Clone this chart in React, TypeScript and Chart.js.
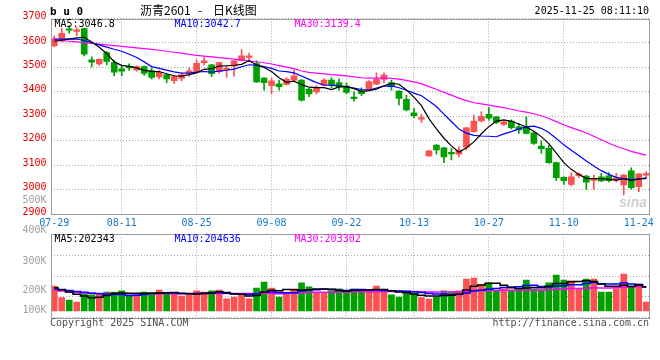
import React, { useEffect, useRef } from 'react';
import { Chart, registerables } from 'chart.js';

Chart.register(...registerables);

// ---------- texts ----------
const SYMBOL = 'b u 0';
const TITLE_NAME = '沥青2601';
const TITLE_SEP = '-';
const TITLE_KIND = '日K线图';
const TIMESTAMP = '2025-11-25 08:11:10';
const COPYRIGHT = 'Copyright 2025 SINA.COM';
const SOURCE_URL = 'http://finance.sina.com.cn';
const WATERMARK = 'sina';
const PRICE_LEGEND = ['MA5:3046.8', 'MA10:3042.7', 'MA30:3139.4'];
const VOLUME_LEGEND = ['MA5:202343', 'MA10:204636', 'MA30:203302'];
const VOLUME_AXIS_LABELS = ['400K', '300K', '200K', '100K'];
const PRICE_EXTRA_LABEL = '500K';

// ---------- data ----------
const DATES = [
  '07-29', '07-30', '07-31', '08-01', '08-04', '08-05', '08-06', '08-07', '08-08', '08-11',
  '08-12', '08-13', '08-14', '08-15', '08-18', '08-19', '08-20', '08-21', '08-22', '08-25',
  '08-26', '08-27', '08-28', '08-29', '09-01', '09-02', '09-03', '09-04', '09-05', '09-08',
  '09-09', '09-10', '09-11', '09-12', '09-15', '09-16', '09-17', '09-18', '09-19', '09-22',
  '09-23', '09-24', '09-25', '09-26', '09-29', '09-30', '10-09', '10-10', '10-13', '10-14',
  '10-15', '10-16', '10-17', '10-20', '10-21', '10-22', '10-23', '10-24', '10-27', '10-28',
  '10-29', '10-30', '10-31', '11-03', '11-04', '11-05', '11-06', '11-07', '11-10', '11-11',
  '11-12', '11-13', '11-14', '11-17', '11-18', '11-19', '11-20', '11-21', '11-24', '11-25',
];
const X_LABELS = ['07-29', '08-11', '08-25', '09-08', '09-22', '10-13', '10-27', '11-10', '11-24'];

const OPEN = [
  3588, 3608, 3658, 3647, 3659, 3531, 3514, 3561, 3520, 3494,
  3502, 3490, 3503, 3487, 3461, 3469, 3446, 3455, 3474, 3483,
  3519, 3510, 3482, 3490, 3505, 3527, 3541, 3516, 3456, 3425,
  3433, 3430, 3448, 3448, 3411, 3400, 3427, 3448, 3438, 3423,
  3378, 3403, 3411, 3431, 3451, 3438, 3403, 3369, 3314, 3288,
  3138, 3182, 3171, 3150, 3145, 3173, 3237, 3281, 3308, 3298,
  3267, 3280, 3257, 3257, 3232, 3178, 3169, 3110, 3050, 3021,
  3056, 3055, 3037, 3052, 3056, 3039, 3019, 3077, 3012, 3059,
];
const HIGH = [
  3629, 3659, 3671, 3663, 3661, 3543, 3535, 3565, 3530, 3506,
  3514, 3506, 3506, 3497, 3487, 3472, 3468, 3476, 3497, 3531,
  3543, 3512, 3522, 3505, 3528, 3573, 3559, 3527, 3458, 3457,
  3448, 3458, 3489, 3450, 3414, 3425, 3454, 3458, 3452, 3436,
  3400, 3416, 3446, 3478, 3478, 3448, 3405, 3386, 3332, 3308,
  3161, 3184, 3173, 3169, 3175, 3255, 3305, 3318, 3335, 3300,
  3282, 3285, 3271, 3298, 3236, 3198, 3182, 3112, 3052, 3069,
  3068, 3058, 3059, 3066, 3070, 3066, 3062, 3089, 3065, 3073,
];
const LOW = [
  3585, 3604, 3640, 3630, 3547, 3502, 3508, 3510, 3466, 3466,
  3488, 3484, 3467, 3453, 3453, 3437, 3434, 3445, 3463, 3481,
  3510, 3462, 3476, 3459, 3464, 3525, 3523, 3438, 3407, 3391,
  3407, 3428, 3446, 3362, 3380, 3391, 3425, 3416, 3407, 3392,
  3362, 3384, 3409, 3429, 3437, 3407, 3346, 3322, 3294, 3275,
  3136, 3145, 3110, 3121, 3134, 3162, 3235, 3277, 3284, 3270,
  3262, 3248, 3230, 3228, 3185, 3148, 3107, 3036, 3021, 3016,
  3050, 3001, 3001, 3033, 3031, 3031, 2978, 3002, 2991, 3046,
];
const CLOSE = [
  3618, 3639, 3652, 3653, 3554, 3521, 3533, 3524, 3480, 3484,
  3498, 3503, 3475, 3459, 3480, 3453, 3462, 3469, 3486, 3517,
  3527, 3474, 3520, 3495, 3527, 3547, 3546, 3440, 3437, 3445,
  3421, 3451, 3465, 3366, 3391, 3414, 3448, 3428, 3420, 3398,
  3372, 3392, 3442, 3451, 3468, 3421, 3373, 3326, 3302, 3294,
  3158, 3162, 3134, 3146, 3162, 3253, 3280, 3300, 3292, 3275,
  3277, 3253, 3244, 3230, 3189, 3167, 3110, 3049, 3036, 3052,
  3063, 3030, 3043, 3035, 3036, 3048, 3059, 3008, 3064, 3063,
];
const MA5 = [
  3607, 3611, 3616, 3621, 3623.2, 3603.8, 3582.6, 3557, 3522.4, 3508.4,
  3503.8, 3497.8, 3488, 3483.8, 3483, 3474, 3465.8, 3464.6, 3470, 3477.4,
  3492.2, 3494.6, 3504.8, 3506.6, 3508.6, 3512.6, 3527, 3511, 3499.4, 3483,
  3457.8, 3438.8, 3443.8, 3429.6, 3418.8, 3417.4, 3416.8, 3409.4, 3420.2, 3421.6,
  3413.2, 3402, 3404.8, 3411, 3425, 3434.8, 3431, 3407.8, 3378, 3343.2,
  3290.6, 3248.4, 3210, 3178.8, 3152.4, 3171.4, 3195, 3228.2, 3257.4, 3280,
  3284.8, 3279.4, 3268.2, 3255.8, 3238.6, 3216.6, 3188, 3149, 3110.2, 3082.8,
  3062, 3046, 3044.8, 3044.6, 3041.4, 3038.4, 3044.2, 3037.2, 3043, 3048.4,
];
const MA10 = [
  3615, 3616, 3617, 3616, 3610, 3601, 3592, 3583, 3574, 3565.8,
  3553.8, 3540.2, 3522.5, 3503.1, 3495.7, 3488.9, 3481.8, 3476.3, 3476.9, 3480.2,
  3483.1, 3480.2, 3484.7, 3488.3, 3493, 3502.4, 3510.8, 3507.9, 3503, 3495.8,
  3485.2, 3482.9, 3477.4, 3464.5, 3450.9, 3437.6, 3427.8, 3426.6, 3424.9, 3420.2,
  3415.3, 3409.4, 3407.1, 3415.6, 3423.3, 3424, 3416.5, 3406.3, 3394.5, 3384.1,
  3362.7, 3339.7, 3308.9, 3278.4, 3247.8, 3231, 3221.7, 3219.1, 3218.1, 3216.2,
  3228.1, 3237.2, 3248.2, 3256.6, 3259.3, 3250.7, 3233.7, 3208.6, 3183, 3160.7,
  3139.3, 3117, 3096.9, 3077.4, 3062.1, 3050.2, 3045.1, 3041, 3043.8, 3044.9,
];
const MA30 = [
  3613, 3610, 3607, 3604, 3601, 3598, 3595, 3592, 3589, 3586,
  3583, 3580, 3577, 3574, 3570, 3566, 3562, 3558, 3553, 3549,
  3546, 3543, 3540, 3537, 3534, 3531, 3527, 3523, 3519, 3513.9,
  3507.4, 3501.1, 3494.9, 3485.3, 3479.9, 3476.3, 3473.5, 3470.3, 3468.3, 3465.4,
  3461.2, 3457.5, 3456.4, 3456.1, 3455.7, 3454.7, 3451.7, 3446.9, 3440.8, 3433.4,
  3421.1, 3410.7, 3397.8, 3386.2, 3374, 3364.2, 3355.3, 3350.7, 3345.8, 3340.2,
  3335.4, 3328.8, 3321.4, 3316.9, 3310.1, 3301.9, 3290.6, 3278, 3265.2, 3253.7,
  3243.4, 3231.3, 3218, 3204.1, 3189.7, 3177.3, 3166.8, 3156.2, 3148.3, 3140.6,
];

// volume, in thousands of lots
const VOLUME_K = [
  212, 160, 149, 140, 176, 172, 172, 185, 185, 190,
  167, 172, 185, 182, 194, 176, 176, 167, 172, 190,
  185, 190, 194, 155, 163, 172, 155, 203, 230, 203,
  163, 181, 199, 226, 208, 181, 181, 190, 199, 190,
  200, 187, 194, 212, 187, 172, 163, 178, 182, 160,
  154, 163, 190, 185, 190, 243, 248, 217, 226, 190,
  199, 190, 199, 239, 199, 194, 226, 261, 239, 235,
  199, 243, 243, 185, 185, 199, 266, 212, 221, 140,
];
const VMA5 = [
  204, 195, 185, 175, 167.4, 159.4, 161.8, 169, 178, 180.8,
  179.8, 179.8, 179.8, 179.2, 180, 181.8, 182.6, 179, 177, 176.2,
  178, 180.8, 186.2, 182.8, 177.4, 174.8, 167.8, 169.6, 184.6, 192.6,
  190.8, 196, 195.2, 194.4, 195.4, 199, 199, 197.2, 191.8, 188.2,
  192, 193.2, 194, 196.6, 196, 190.4, 185.6, 182.4, 176.4, 171,
  167.4, 167.4, 169.8, 170.4, 176.4, 194.2, 211.2, 216.6, 224.8, 224.8,
  216, 204.4, 200.8, 203.4, 205.2, 204.2, 211.4, 223.8, 223.8, 231,
  232, 235.4, 231.8, 221, 211, 211, 215.6, 209.4, 216.6, 207.6,
];
const VMA10 = [
  200, 196, 192, 188, 184, 180, 177, 175, 174, 174.1,
  169.6, 170.8, 174.4, 178.6, 180.4, 180.8, 181.2, 179.4, 178.1, 178.1,
  179.9, 181.7, 182.6, 179.9, 176.8, 176.4, 174.3, 177.9, 183.7, 185,
  182.8, 181.9, 182.4, 189.5, 194, 194.9, 197.5, 196.2, 193.1, 191.8,
  195.5, 196.1, 195.6, 194.2, 192.1, 191.2, 189.4, 188.2, 186.5, 183.5,
  178.9, 176.5, 176.1, 173.4, 173.7, 180.8, 189.3, 193.2, 197.6, 200.6,
  205.1, 207.8, 208.7, 214.1, 215, 210.1, 207.9, 212.3, 213.6, 218.1,
  218.1, 223.4, 227.8, 222.4, 221, 221.5, 225.5, 220.6, 218.8, 209.3,
];
const VMA30 = [
  194, 190, 186, 183, 181, 180, 179, 178, 178, 177,
  177, 177, 177, 177, 177, 177, 177, 177, 177, 177,
  178, 178, 178, 178, 178, 178, 178, 178, 179, 179.1,
  177.4, 178.1, 179.8, 182.7, 183.7, 184, 184.3, 184.5, 185, 185,
  186.1, 186.6, 186.9, 187.9, 187.6, 187.5, 187.1, 187.4, 187.8, 186.8,
  185.7, 184.8, 184.7, 185.7, 186.6, 189, 192.1, 192.5, 192.4, 192,
  193.2, 193.5, 193.5, 193.9, 193.6, 194, 195.5, 197.9, 199.2, 200.7,
  200.7, 202.6, 204.2, 203.3, 203.2, 204.1, 207.6, 208.7, 210, 209.3,
];

const PRICE_TICKS = [2900, 3000, 3100, 3200, 3300, 3400, 3500, 3600, 3700];
const VOLUME_MIN_K = 70;
const VOLUME_MAX_K = 444;
const VOLUME_FLOOR_K = 100;

// ---------- style ----------
const MONO = '"DejaVu Sans Mono", "Liberation Mono", monospace';
const CJK = '"Noto Sans CJK SC", sans-serif';
const UP = '#fa5252';
const DOWN = '#00a000';
const GRID = '#a8a8a8';
const FRAME = '#9a9a9a';
const PRICE_TEXT = '#e80000';
const DATE_TEXT = '#1478c8';
const MA_COLORS = ['#000000', '#0000ff', '#ff00ff'];
const AXIS_W = 50.5;

const idx = DATES.map((_, i) => i);
const candleColors = idx.map((i) => (CLOSE[i] >= OPEN[i] ? UP : DOWN));
const xTickIdx = X_LABELS.map((l) => DATES.indexOf(l));

function xScale(showLabels: boolean, height: number) {
  return {
    type: 'linear',
    min: -0.5,
    max: DATES.length - 0.5,
    offset: false,
    afterBuildTicks: (s: any) => {
      s.ticks = xTickIdx.map((v) => ({ value: v }));
    },
    afterFit: (s: any) => {
      s.height = height;
    },
    grid: {
      offset: false,
      drawTicks: false,
      lineWidth: 1,
      color: (c: any) =>
        c.index === 0 || c.index === xTickIdx.length - 1 ? 'rgba(0,0,0,0)' : GRID,
    },
    border: { display: false, dash: [1, 2] },
    ticks: {
      display: showLabels,
      autoSkip: false,
      maxRotation: 0,
      minRotation: 0,
      padding: 3,
      color: DATE_TEXT,
      font: { family: MONO, size: 10 },
      callback: (v: number) => DATES[Math.round(v)] ?? '',
    },
  };
}

function drawFrame(ctx: CanvasRenderingContext2D, a: any) {
  ctx.strokeStyle = FRAME;
  ctx.lineWidth = 1;
  const l = Math.round(a.left) + 0.5;
  const t = Math.round(a.top) + 0.5;
  const r = Math.round(a.right) - 0.5;
  const b = Math.round(a.bottom) + 0.5;
  ctx.strokeRect(l, t, r - l, b - t);
}

function drawLegend(ctx: CanvasRenderingContext2D, a: any, items: string[]) {
  ctx.font = `10px ${MONO}`;
  ctx.textAlign = 'left';
  ctx.textBaseline = 'middle';
  items.forEach((t, k) => {
    ctx.fillStyle = MA_COLORS[k];
    ctx.fillText(t, a.left + 4 + k * 120, a.top + 5.5);
  });
}

const priceOverlay = {
  id: 'priceOverlay',
  afterDraw(chart: any) {
    const { ctx, chartArea: a } = chart;
    ctx.save();
    drawFrame(ctx, a);
    // header
    ctx.fillStyle = '#000';
    ctx.textBaseline = 'alphabetic';
    ctx.textAlign = 'left';
    ctx.font = `bold 11px ${MONO}`;
    ctx.fillText(SYMBOL, a.left - 0.5, a.top - 3.5);
    ctx.textBaseline = 'middle';
    ctx.font = `12px ${CJK}`;
    ctx.fillText(TITLE_NAME, a.left + 89.5, a.top - 8.5);
    ctx.textAlign = 'center';
    ctx.fillText(TITLE_SEP, a.left + 149.5, a.top - 8.5);
    ctx.textAlign = 'left';
    ctx.fillText(TITLE_KIND, a.left + 162.5, a.top - 8.5);
    ctx.font = `10px ${MONO}`;
    ctx.textAlign = 'right';
    ctx.fillText(TIMESTAMP, a.right - 1, a.top - 7);
    // legend
    drawLegend(ctx, a, PRICE_LEGEND);
    // stray volume label on the price axis
    ctx.fillStyle = '#a0a0a0';
    ctx.textAlign = 'right';
    ctx.font = `10px ${MONO}`;
    ctx.fillText(PRICE_EXTRA_LABEL, a.left - 4, a.bottom - 14);
    // watermark
    ctx.fillStyle = 'rgba(170,170,170,0.55)';
    ctx.font = 'italic bold 14px "Liberation Sans", sans-serif';
    ctx.textAlign = 'left';
    ctx.textBaseline = 'alphabetic';
    ctx.fillText(WATERMARK, a.right - 31, a.bottom - 7);
    ctx.restore();
  },
};

const volumeOverlay = {
  id: 'volumeOverlay',
  afterDraw(chart: any) {
    const { ctx, chartArea: a } = chart;
    const h = a.bottom - a.top;
    ctx.save();
    drawFrame(ctx, a);
    drawLegend(ctx, a, VOLUME_LEGEND);
    ctx.font = `10px ${MONO}`;
    ctx.fillStyle = '#a0a0a0';
    ctx.textAlign = 'right';
    ctx.textBaseline = 'middle';
    const fr = [-0.052, 0.32, 0.668, 0.908];
    VOLUME_AXIS_LABELS.forEach((t, k) => ctx.fillText(t, a.left - 4, a.top + fr[k] * h));
    ctx.fillStyle = '#505050';
    ctx.textAlign = 'left';
    ctx.fillText(COPYRIGHT, a.left - 0.5, a.bottom + 6);
    ctx.textAlign = 'right';
    ctx.fillText(SOURCE_URL, a.right - 1, a.bottom + 6);
    ctx.restore();
  },
};

function maLines(arrays: number[][], width: number, stepped: boolean) {
  return arrays.map((arr, k) => ({
    type: 'line',
    data: arr.map((v, i) => ({ x: i, y: v })),
    borderColor: MA_COLORS[k],
    borderWidth: width,
    pointRadius: 0,
    tension: 0,
    stepped: stepped ? 'middle' : false,
    order: 0,
  }));
}

function makePrice(canvas: HTMLCanvasElement) {
  return new Chart(canvas, {
    type: 'bar',
    data: {
      datasets: [
        ...maLines([MA5, MA10, MA30], 1.2, false),
        {
          type: 'bar',
          data: idx.map((i) => ({ x: i, y: [OPEN[i], CLOSE[i]] })),
          backgroundColor: candleColors,
          barThickness: 6,
          minBarLength: 1.5,
          grouped: false,
          order: 1,
        },
        {
          type: 'bar',
          data: idx.map((i) => ({ x: i, y: [LOW[i], HIGH[i]] })),
          backgroundColor: candleColors,
          barThickness: 1,
          minBarLength: 1,
          grouped: false,
          order: 2,
        },
      ],
    } as any,
    options: {
      responsive: false,
      animation: false,
      devicePixelRatio: 1,
      events: [],
      layout: { padding: { top: 18.5, right: 10, left: 0, bottom: 0 } },
      plugins: { legend: { display: false }, tooltip: { enabled: false } },
      scales: {
        x: xScale(true, 18) as any,
        y: {
          type: 'linear',
          min: PRICE_TICKS[0],
          max: PRICE_TICKS[PRICE_TICKS.length - 1],
          afterBuildTicks: (s: any) => {
            s.ticks = PRICE_TICKS.map((v) => ({ value: v }));
          },
          afterFit: (s: any) => {
            s.width = AXIS_W;
          },
          grid: { drawTicks: false, color: GRID, lineWidth: 1 },
          border: { display: false, dash: [1, 2] },
          ticks: {
            padding: 4,
            labelOffset: -2,
            color: PRICE_TEXT,
            font: { family: MONO, size: 10 },
            callback: (v: number) => String(v),
          },
        } as any,
      },
    },
    plugins: [priceOverlay],
  });
}

function makeVolume(canvas: HTMLCanvasElement) {
  return new Chart(canvas, {
    type: 'bar',
    data: {
      datasets: [
        ...maLines([VMA5, VMA10, VMA30], 1.5, true),
        {
          type: 'bar',
          data: idx.map((i) => ({ x: i, y: [VOLUME_FLOOR_K, VOLUME_K[i]] })),
          backgroundColor: candleColors,
          barThickness: 6,
          grouped: false,
          order: 1,
        },
      ],
    } as any,
    options: {
      responsive: false,
      animation: false,
      devicePixelRatio: 1,
      events: [],
      layout: { padding: { top: 9.3, right: 10, left: 0, bottom: 0 } },
      plugins: { legend: { display: false }, tooltip: { enabled: false } },
      scales: {
        x: xScale(false, 42.3) as any,
        y: {
          type: 'linear',
          min: VOLUME_MIN_K,
          max: VOLUME_MAX_K,
          afterBuildTicks: (s: any) => {
            const step = (VOLUME_MAX_K - VOLUME_MIN_K) / 4;
            s.ticks = [0, 1, 2, 3, 4].map((k) => ({ value: VOLUME_MIN_K + k * step }));
          },
          afterFit: (s: any) => {
            s.width = AXIS_W;
          },
          grid: { drawTicks: false, color: GRID, lineWidth: 1 },
          border: { display: false, dash: [1, 2] },
          ticks: { display: false },
        } as any,
      },
    },
    plugins: [volumeOverlay],
  });
}

export default function App() {
  const priceRef = useRef<HTMLCanvasElement>(null);
  const volRef = useRef<HTMLCanvasElement>(null);
  useEffect(() => {
    const charts = [makePrice(priceRef.current!), makeVolume(volRef.current!)];
    return () => charts.forEach((c) => c.destroy());
  }, []);
  return (
    <div
      style={{
        position: 'fixed',
        left: 0,
        top: 0,
        width: 660,
        height: 360,
        background: '#fff',
        overflow: 'hidden',
      }}
    >
      <canvas
        ref={priceRef}
        width={660}
        height={232}
        style={{ position: 'absolute', left: 0, top: 0, width: 660, height: 232 }}
      />
      <canvas
        ref={volRef}
        width={660}
        height={135}
        style={{ position: 'absolute', left: 0, top: 225, width: 660, height: 135 }}
      />
    </div>
  );
}
